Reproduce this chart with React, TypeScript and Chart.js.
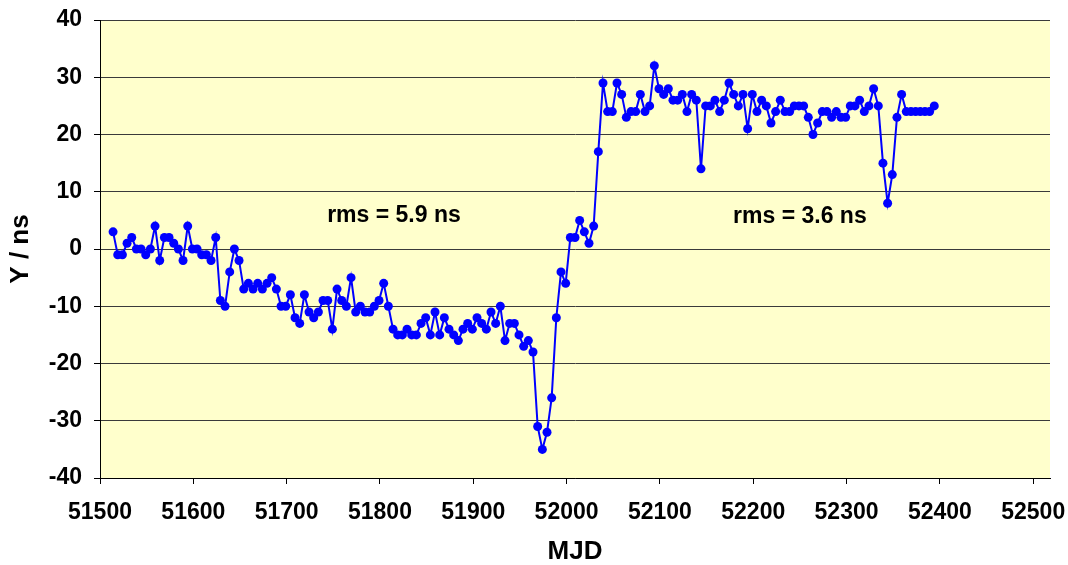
import React, { useEffect, useRef } from "react";
import { Chart, registerables } from "chart.js";

Chart.register(...registerables);

const mjd: number[] = [
  51514, 51519, 51524, 51529, 51534, 51539, 51544, 51549, 51554, 51559,
  51564, 51569, 51574, 51579, 51584, 51589, 51594, 51599, 51604, 51609,
  51614, 51619, 51624, 51629, 51634, 51639, 51644, 51649, 51654, 51659,
  51664, 51669, 51674, 51679, 51684, 51689, 51694, 51699, 51704, 51709,
  51714, 51719, 51724, 51729, 51734, 51739, 51744, 51749, 51754, 51759,
  51764, 51769, 51774, 51779, 51784, 51789, 51794, 51799, 51804, 51809,
  51814, 51819, 51824, 51829, 51834, 51839, 51844, 51849, 51854, 51859,
  51864, 51869, 51874, 51879, 51884, 51889, 51894, 51899, 51904, 51909,
  51914, 51919, 51924, 51929, 51934, 51939, 51944, 51949, 51954, 51959,
  51964, 51969, 51974, 51979, 51984, 51989, 51994, 51999, 52004, 52009,
  52014, 52019, 52024, 52029, 52034, 52039, 52044, 52049, 52054, 52059,
  52064, 52069, 52074, 52079, 52084, 52089, 52094, 52099, 52104, 52109,
  52114, 52119, 52124, 52129, 52134, 52139, 52144, 52149, 52154, 52159,
  52164, 52169, 52174, 52179, 52184, 52189, 52194, 52199, 52204, 52209,
  52214, 52219, 52224, 52229, 52234, 52239, 52244, 52249, 52254, 52259,
  52264, 52269, 52274, 52279, 52284, 52289, 52294, 52299, 52304, 52309,
  52314, 52319, 52324, 52329, 52334, 52339, 52344, 52349, 52354, 52359,
  52364, 52369, 52374, 52379, 52384, 52389, 52394,
];

const yNs: number[] = [
  3, -1, -1, 1, 2, 0, 0, -1, 0, 4,
  -2, 2, 2, 1, 0, -2, 4, 0, 0, -1,
  -1, -2, 2, -9, -10, -4, 0, -2, -7, -6,
  -7, -6, -7, -6, -5, -7, -10, -10, -8, -12,
  -13, -8, -11, -12, -11, -9, -9, -14, -7, -9,
  -10, -5, -11, -10, -11, -11, -10, -9, -6, -10,
  -14, -15, -15, -14, -15, -15, -13, -12, -15, -11,
  -15, -12, -14, -15, -16, -14, -13, -14, -12, -13,
  -14, -11, -13, -10, -16, -13, -13, -15, -17, -16,
  -18, -31, -35, -32, -26, -12, -4, -6, 2, 2,
  5, 3, 1, 4, 17, 29, 24, 24, 29, 27,
  23, 24, 24, 27, 24, 25, 32, 28, 27, 28,
  26, 26, 27, 24, 27, 26, 14, 25, 25, 26,
  24, 26, 29, 27, 25, 27, 21, 27, 24, 26,
  25, 22, 24, 26, 24, 24, 25, 25, 25, 23,
  20, 22, 24, 24, 23, 24, 23, 23, 25, 25,
  26, 24, 25, 28, 25, 15, 8, 13, 23, 27,
  24, 24, 24, 24, 24, 24, 25,
];

const xTickValues: number[] = [51500, 51600, 51700, 51800, 51900, 52000, 52100, 52200, 52300, 52400, 52500];
const yTickValues: number[] = [-40, -30, -20, -10, 0, 10, 20, 30, 40];

const noteTexts: string[] = ["rms = 5.9 ns", "rms = 3.6 ns"];
const noteX: number[] = [51815, 52250];
const noteY: number[] = [5.9, 5.7];

const FONT = "'Liberation Sans', Arial, sans-serif";

const bgPlugin = {
  id: "plotBg",
  beforeDraw(chart: any) {
    const { ctx, chartArea } = chart;
    ctx.save();
    ctx.fillStyle = "#FFFFCC";
    ctx.fillRect(chartArea.left, chartArea.top, chartArea.right - chartArea.left, chartArea.bottom - chartArea.top);
    ctx.restore();
  },
};

const notesPlugin = {
  id: "notes",
  afterDatasetsDraw(chart: any) {
    const { ctx, scales } = chart;
    ctx.save();
    ctx.fillStyle = "#000000";
    ctx.font = `bold 23px ${FONT}`;
    ctx.textAlign = "center";
    ctx.textBaseline = "middle";
    noteTexts.forEach((t, i) => {
      ctx.fillText(t, scales.x.getPixelForValue(noteX[i]), scales.y.getPixelForValue(noteY[i]));
    });
    ctx.restore();
  },
};

export default function App() {
  const ref = useRef<HTMLCanvasElement | null>(null);

  useEffect(() => {
    if (!ref.current) return;
    const chart = new Chart(ref.current, {
      type: "line",
      data: {
        datasets: [
          {
            data: mjd.map((x, i) => ({ x, y: yNs[i] })),
            borderColor: "#0000FF",
            backgroundColor: "#0000FF",
            borderWidth: 2,
            pointRadius: 4.5,
            pointBorderWidth: 0,
            pointBackgroundColor: "#0000FF",
            tension: 0,
            fill: false,
          },
        ],
      },
      options: {
        responsive: false,
        animation: false,
        layout: { padding: { top: 20, right: 18, bottom: 0, left: 0 } },
        plugins: { legend: { display: false }, tooltip: { enabled: false } },
        scales: {
          x: {
            type: "linear",
            min: 51500,
            max: 52518,
            afterFit(scale: any) {
              scale.height = 87;
              scale.paddingLeft = 0;
              scale.paddingRight = 0;
            },
            afterBuildTicks(scale: any) {
              scale.ticks = xTickValues.map((v) => ({ value: v }));
            },
            ticks: {
              color: "#000000",
              font: { family: FONT, size: 23, weight: "bold" },
              padding: 15,
              maxRotation: 0,
              autoSkip: false,
              callback: (v: any) => String(v),
            },
            grid: { drawOnChartArea: false, drawTicks: true, tickLength: 6, tickColor: "#000000" },
            border: { display: true, color: "#000000", width: 1 },
            title: {
              display: true,
              text: "MJD",
              color: "#000000",
              font: { family: FONT, size: 26, weight: "bold", lineHeight: 1 },
              padding: { top: 0, bottom: 0 },
            },
          },
          y: {
            type: "linear",
            min: -40,
            max: 40,
            afterFit(scale: any) {
              scale.width = 100;
              scale.paddingTop = 0;
              scale.paddingBottom = 0;
            },
            afterBuildTicks(scale: any) {
              scale.ticks = yTickValues.map((v) => ({ value: v }));
            },
            ticks: {
              color: "#000000",
              font: { family: FONT, size: 23, weight: "bold" },
              padding: 12,
              callback: (v: any) => String(v),
            },
            grid: { color: "#3a3a3a", lineWidth: 1, drawTicks: true, tickLength: 6, tickColor: "#000000" },
            border: { display: true, color: "#000000", width: 1 },
            title: {
              display: true,
              text: "Y / ns",
              color: "#000000",
              font: { family: FONT, size: 26, weight: "bold", lineHeight: 1 },
              padding: { top: 8, bottom: 0 },
            },
          },
        },
      },
      plugins: [bgPlugin, notesPlugin],
    });
    return () => chart.destroy();
  }, []);

  return (
    <div style={{ position: "fixed", left: 0, top: 0, width: 1068, height: 565, background: "#ffffff" }}>
      <canvas ref={ref} width={1068} height={565} style={{ width: 1068, height: 565, display: "block" }} />
    </div>
  );
}
